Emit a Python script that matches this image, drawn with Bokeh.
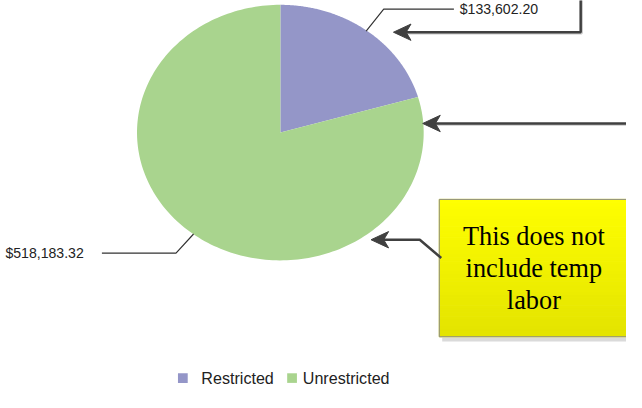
import numpy as np
from bokeh.plotting import figure
from bokeh.models import Range1d
from bokeh.core.properties import value
from bokeh.embed import file_html
from bokeh.resources import INLINE

# ---- data ----
categories = ["Restricted", "Unrestricted"]
amounts = [133602.20, 518183.32]
colors = ["#9496C8", "#A9D48E"]
note_lines = ["This does not", "include temp", "labor"]

S = 626 / 642.0  # font scale

# ---- figure in reference-pixel coordinates ----
p = figure(width=626, height=392, output_backend="svg", toolbar_location=None,
           x_range=Range1d(0, 642), y_range=Range1d(408, 0),
           min_border=0, outline_line_color=None, background_fill_color="white",
           border_fill_color="white")
p.axis.visible = False
p.grid.visible = False

def fs(px):
    return "%.1fpx" % (px * S)

# ---- pie (elliptical) ----
cx, cy, rx, ry = 287.0, 137.5, 147.0, 133.0
total = sum(amounts)
start = np.pi / 2
xs, ys = [], []
for a in amounts:
    sweep = 2 * np.pi * a / total
    th = np.linspace(start, start - sweep, 200)
    xs.append([cx] + list(cx + rx * np.cos(th)))
    ys.append([cy] + list(cy - ry * np.sin(th)))
    start -= sweep
p.patches(xs, ys, fill_color=colors, line_color=None)

# ---- leader lines & value labels ----
lead = "#333333"
p.line([375, 393, 465], [32, 9, 9], line_color=lead, line_width=1.2)
p.text([471], [9], text=[f"${amounts[0]:,.2f}"], text_font=value("Liberation Sans"),
       text_font_size=fs(14.5), text_baseline="middle", text_align="left", text_color="#222222")
p.line([198, 180, 104], [243, 263, 263], line_color=lead, line_width=1.2)
p.text([5], [263], text=[f"${amounts[1]:,.2f}"], text_font=value("Liberation Sans"),
       text_font_size=fs(14.5), text_baseline="middle", text_align="left", text_color="#222222")

# ---- callout box with gradient ----
bx0, bx1, by0, by1 = 450, 660, 207, 350
p.quad(left=[bx0 + 3], right=[bx1], top=[by1 + 1], bottom=[by1 + 5], fill_color="#DADADA", line_color=None)
n = 40
edges = np.linspace(by0, by1, n + 1)
c0 = np.array([255, 255, 0]); c1 = np.array([228, 228, 0])
strip_cols = []
for i in range(n):
    t = i / (n - 1)
    c = (c0 * (1 - t) + c1 * t).astype(int)
    strip_cols.append("#%02x%02x%02x" % tuple(c))
p.quad(left=[bx0] * n, right=[bx1] * n, top=list(edges[:-1]), bottom=list(edges[1:]),
       fill_color=strip_cols, line_color=strip_cols, line_width=1)
p.quad(left=[bx0], right=[bx1], top=[by0], bottom=[by1], fill_color=None,
       line_color="#8A8A8A", line_width=1)
p.text([547] * 3, [246, 279, 312], text=note_lines, text_font=value("Liberation Serif"),
       text_font_size=fs(27), text_baseline="middle", text_align="center", text_color="#000000")

# ---- arrows ----
ac = "#404040"
def head(tx, ty):
    return [tx, tx + 18, tx + 13, tx + 18], [ty, ty - 8.5, ty, ty + 8.5]

# top arrow
p.line([596, 596, 414], [-2, 34, 34], line_color="#C8C8C8", line_width=2.5)
p.line([595, 595, 414], [-2, 33, 33], line_color=ac, line_width=2.5)
hx, hy = head(403, 33)
p.patch(hx, hy, fill_color=ac, line_color=ac)
# middle arrow
p.line([660, 444], [129, 129], line_color="#C8C8C8", line_width=2.5)
p.line([660, 444], [128, 128], line_color=ac, line_width=2.5)
hx, hy = head(433, 128)
p.patch(hx, hy, fill_color=ac, line_color=ac)
# box arrow
p.line([452, 430, 391], [268, 249, 249], line_color=ac, line_width=2.5)
hx, hy = head(380, 249)
p.patch(hx, hy, fill_color=ac, line_color=ac)

# ---- legend ----
p.rect(x=[187, 299], y=[393, 393], width=10, height=10, fill_color=colors, line_color=None)
p.text([206, 310], [393, 393], text=categories, text_font=value("Liberation Sans"),
       text_font_size=fs(16.5), text_baseline="middle", text_align="left", text_color="#222222")

open("out.html", "w").write(file_html(p, INLINE))
